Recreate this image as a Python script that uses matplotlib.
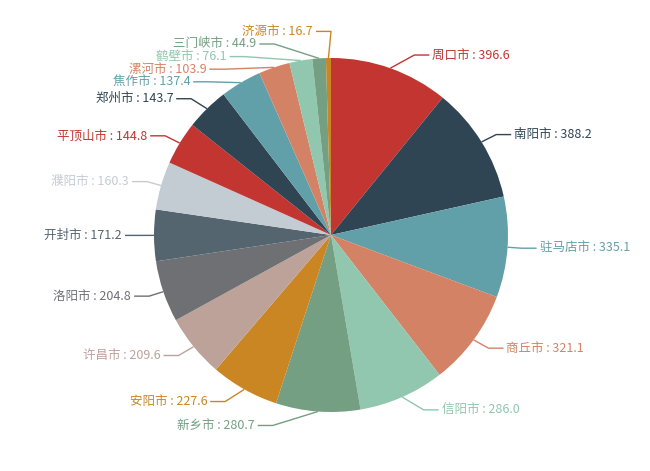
import matplotlib
matplotlib.use('Agg')
import matplotlib.pyplot as plt
import numpy as np

cities = ['周口市', '南阳市', '驻马店市', '商丘市', '信阳市', '新乡市', '安阳市', '许昌市', '洛阳市',
          '开封市', '濮阳市', '平顶山市', '郑州市', '焦作市', '漯河市', '鹤壁市', '三门峡市', '济源市']
values = [396.6, 388.2, 335.1, 321.1, 286.0, 280.7, 227.6, 209.6, 204.8,
          171.2, 160.3, 144.8, 143.7, 137.4, 103.9, 76.1, 44.9, 16.7]

plt.rcParams['font.family'] = ['Noto Sans CJK SC', 'DejaVu Sans']

W, H = 650, 471
fig = plt.figure(figsize=(6.5, 4.71), dpi=100)
ax = fig.add_axes([0, 0, 1, 1])
palette = ['#c23531', '#2f4554', '#61a0a8', '#d48265', '#91c7ae', '#749f83',
           '#ca8622', '#bda29a', '#6e7074', '#546570', '#c4ccd3']
colors = [palette[i % len(palette)] for i in range(len(values))]

cx, cy, r = 331, 235, 177
ax.pie(values, colors=colors, startangle=90, counterclock=False,
       center=(cx, H - cy), radius=r, wedgeprops=dict(linewidth=0))
ax.set_xlim(0, W)
ax.set_ylim(0, H)
ax.axis('off')

total = float(sum(values))
rA, rB, L2, pad, lh = 191, 200, 15, 3, 12.6
ytop, ybot = cy - rA - lh, cy + rA + lh
items = []
cum = 0.0
for i, v in enumerate(values):
    mid = (cum + v / 2) / total * 2 * np.pi
    cum += v
    dx, dy = np.sin(mid), -np.cos(mid)
    side = 1 if dx >= 0 else -1
    items.append(dict(i=i, ex=cx + r * dx, ey=cy + r * dy, nat=cy + rA * dy, side=side))


def resolve(group):
    group.sort(key=lambda d: d['nat'])
    blocks = []

    def top(b):
        t = np.mean([m['nat'] - k * lh for k, m in enumerate(b)])
        t = max(t, ytop)
        t = min(t, ybot - (len(b) - 1) * lh)
        return t

    for d in group:
        blocks.append([d])
        while len(blocks) > 1:
            b1, b2 = blocks[-2], blocks[-1]
            if top(b1) + len(b1) * lh > top(b2):
                blocks[-2] = b1 + b2
                blocks.pop()
            else:
                break
    for b in blocks:
        t = top(b)
        for k, m in enumerate(b):
            m['y'] = t + k * lh


resolve([d for d in items if d['side'] > 0])
resolve([d for d in items if d['side'] < 0])

for d in items:
    i = d['i']
    y = d['y']
    dyy = y - cy
    elx = cx + d['side'] * rA * np.sqrt(max(0.0, 1 - dyy * dyy / (rB * rB)))
    tx = elx + d['side'] * L2
    ax.plot([d['ex'], elx, tx], [H - d['ey'], H - y, H - y], color=colors[i], lw=1,
            solid_capstyle='butt')
    ax.text(tx + d['side'] * pad, H - y, f'{cities[i]} : {values[i]:.1f}',
            color=colors[i], fontsize=9, ha='left' if d['side'] > 0 else 'right',
            va='center')

fig.savefig('out.png', dpi=100)
